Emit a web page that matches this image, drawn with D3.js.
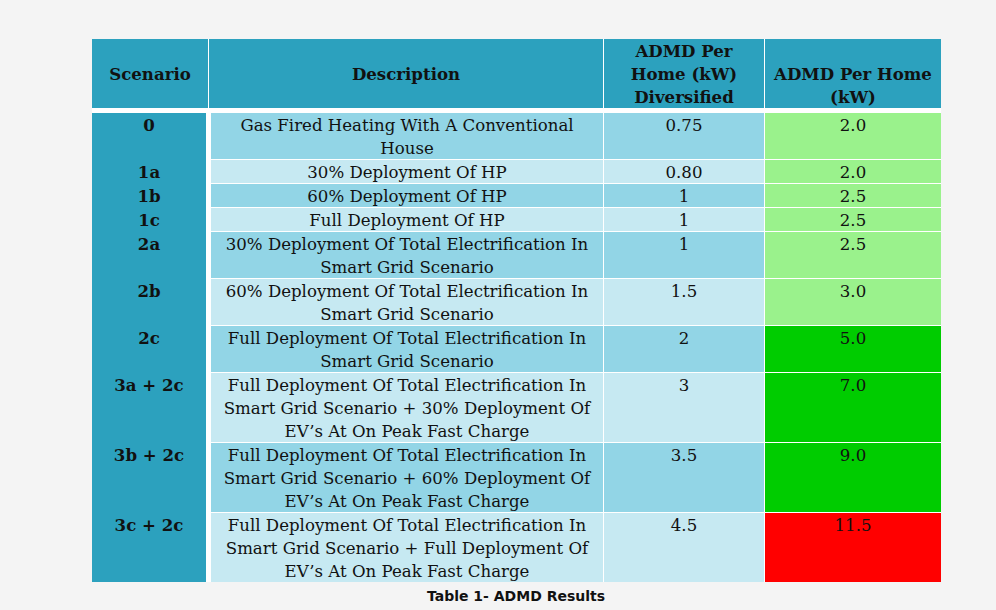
<!DOCTYPE html>
<html>
<head>
<meta charset="utf-8">
<script src="https://cdn.jsdelivr.net/npm/d3@7"></script>
<style>
  html, body { margin: 0; padding: 0; background: #f4f4f4; }
  svg { display: block; }
</style>
</head>
<body>
<svg id="chart" width="996" height="610"></svg>
<script>
// ---- data ----
const headers = [
  ["", "Scenario"],
  ["", "Description"],
  ["ADMD Per", "Home (kW)", "Diversified"],
  ["", "ADMD Per Home", "(kW)"]
];
const scenarios = ["0", "1a", "1b", "1c", "2a", "2b", "2c", "3a + 2c", "3b + 2c", "3c + 2c"];
const descriptions = [
  "Gas Fired Heating With A Conventional\nHouse",
  "30% Deployment Of HP",
  "60% Deployment Of HP",
  "Full Deployment Of HP",
  "30% Deployment Of Total Electrification In\nSmart Grid Scenario",
  "60% Deployment Of Total Electrification In\nSmart Grid Scenario",
  "Full Deployment Of Total Electrification In\nSmart Grid Scenario",
  "Full Deployment Of Total Electrification In\nSmart Grid Scenario + 30% Deployment Of\nEV\u2019s At On Peak Fast Charge",
  "Full Deployment Of Total Electrification In\nSmart Grid Scenario + 60% Deployment Of\nEV\u2019s At On Peak Fast Charge",
  "Full Deployment Of Total Electrification In\nSmart Grid Scenario + Full Deployment Of\nEV\u2019s At On Peak Fast Charge"
];
const admdDiversified = ["0.75", "0.80", "1", "1", "1", "1.5", "2", "3", "3.5", "4.5"];
const admdPerHome = [2.0, 2.0, 2.5, 2.5, 2.5, 3.0, 5.0, 7.0, 9.0, 11.5];
const caption = "Table 1- ADMD Results";

// ---- layout ----
const svg = d3.select("#chart");
const lineH = 23;
const cols = [
  { hx0: 92,  hx1: 208, bx0: 92,  bx1: 206 },
  { hx0: 209, hx1: 603, bx0: 211, bx1: 603 },
  { hx0: 604, hx1: 764, bx0: 604, bx1: 764 },
  { hx0: 765, hx1: 941, bx0: 765, bx1: 941 }
];
const headTop = 39, headBot = 108, bodyTop = 113;
const colors = {
  teal: "#2ca1be", dark: "#92d5e6", light: "#c6e9f2",
  lgreen: "#9af28c", green: "#00cc00", red: "#ff0000"
};
const serif = "'DejaVu Serif', serif";
const fs = 16.6;

const rows = descriptions.map((d, i) => ({
  i, scen: scenarios[i], desc: d.split("\n"), div: admdDiversified[i], val: admdPerHome[i]
}));
let cum = 0;
rows.forEach(r => { r.lines = r.desc.length; r.start = cum; cum += r.lines; });
const totalLines = cum;
const y = d3.scaleLinear().domain([0, totalLines]).range([bodyTop, bodyTop + totalLines * lineH]);
const rowTop = r => y(r.start) + r.i;
const rowH = r => y(r.start + r.lines) - y(r.start);

const valColor = d3.scaleThreshold().domain([5, 11]).range([colors.lgreen, colors.green, colors.red]);

// white backing
svg.append("rect").attr("x", 92).attr("y", headTop).attr("width", 941 - 92)
  .attr("height", rowTop(rows[rows.length - 1]) + rowH(rows[rows.length - 1]) - headTop)
  .attr("fill", "#fff");

// header
const hg = svg.append("g");
headers.forEach((lines, c) => {
  const col = cols[c];
  hg.append("rect").attr("x", col.hx0).attr("y", headTop)
    .attr("width", col.hx1 - col.hx0).attr("height", headBot - headTop).attr("fill", colors.teal);
  lines.forEach((t, k) => {
    if (!t) return;
    hg.append("text").attr("x", (col.hx0 + col.hx1) / 2).attr("y", headTop + k * lineH + 17.5)
      .attr("text-anchor", "middle").attr("font-family", serif).attr("font-weight", "bold")
      .attr("font-size", fs).attr("fill", "#111").text(t);
  });
});

// scenario column (single continuous cell)
const lastRow = rows[rows.length - 1];
svg.append("rect").attr("x", cols[0].bx0).attr("y", bodyTop)
  .attr("width", cols[0].bx1 - cols[0].bx0)
  .attr("height", rowTop(lastRow) + rowH(lastRow) - bodyTop).attr("fill", colors.teal);

const rg = svg.selectAll("g.row").data(rows).join("g").attr("class", "row");
rg.append("text").attr("x", (cols[0].bx0 + cols[0].bx1) / 2).attr("y", r => rowTop(r) + 18)
  .attr("text-anchor", "middle").attr("font-family", serif).attr("font-weight", "bold")
  .attr("font-size", fs).attr("fill", "#111").text(r => r.scen);

[1, 2].forEach(c => {
  rg.append("rect").attr("x", cols[c].bx0).attr("y", rowTop)
    .attr("width", cols[c].bx1 - cols[c].bx0).attr("height", rowH)
    .attr("fill", r => r.i % 2 === 0 ? colors.dark : colors.light);
});
rg.append("rect").attr("x", cols[3].bx0).attr("y", rowTop)
  .attr("width", cols[3].bx1 - cols[3].bx0).attr("height", rowH)
  .attr("fill", r => valColor(r.val));

rg.each(function(r) {
  const g = d3.select(this);
  r.desc.forEach((t, k) => {
    g.append("text").attr("x", (cols[1].bx0 + cols[1].bx1) / 2).attr("y", rowTop(r) + k * lineH + 18)
      .attr("text-anchor", "middle").attr("font-family", serif)
      .attr("font-size", fs).attr("fill", "#111").text(t);
  });
});
rg.append("text").attr("x", (cols[2].bx0 + cols[2].bx1) / 2).attr("y", r => rowTop(r) + 18)
  .attr("text-anchor", "middle").attr("font-family", serif)
  .attr("font-size", fs).attr("fill", "#111").text(r => r.div);
rg.append("text").attr("x", (cols[3].bx0 + cols[3].bx1) / 2).attr("y", r => rowTop(r) + 18)
  .attr("text-anchor", "middle").attr("font-family", serif)
  .attr("font-size", fs).attr("fill", "#111").text(r => d3.format(".1f")(r.val));

svg.append("text").attr("x", 516).attr("y", 601).attr("text-anchor", "middle")
  .attr("font-family", "'DejaVu Sans', sans-serif").attr("font-weight", "bold")
  .attr("font-size", 14).attr("fill", "#111").text(caption);
</script>
</body>
</html>
